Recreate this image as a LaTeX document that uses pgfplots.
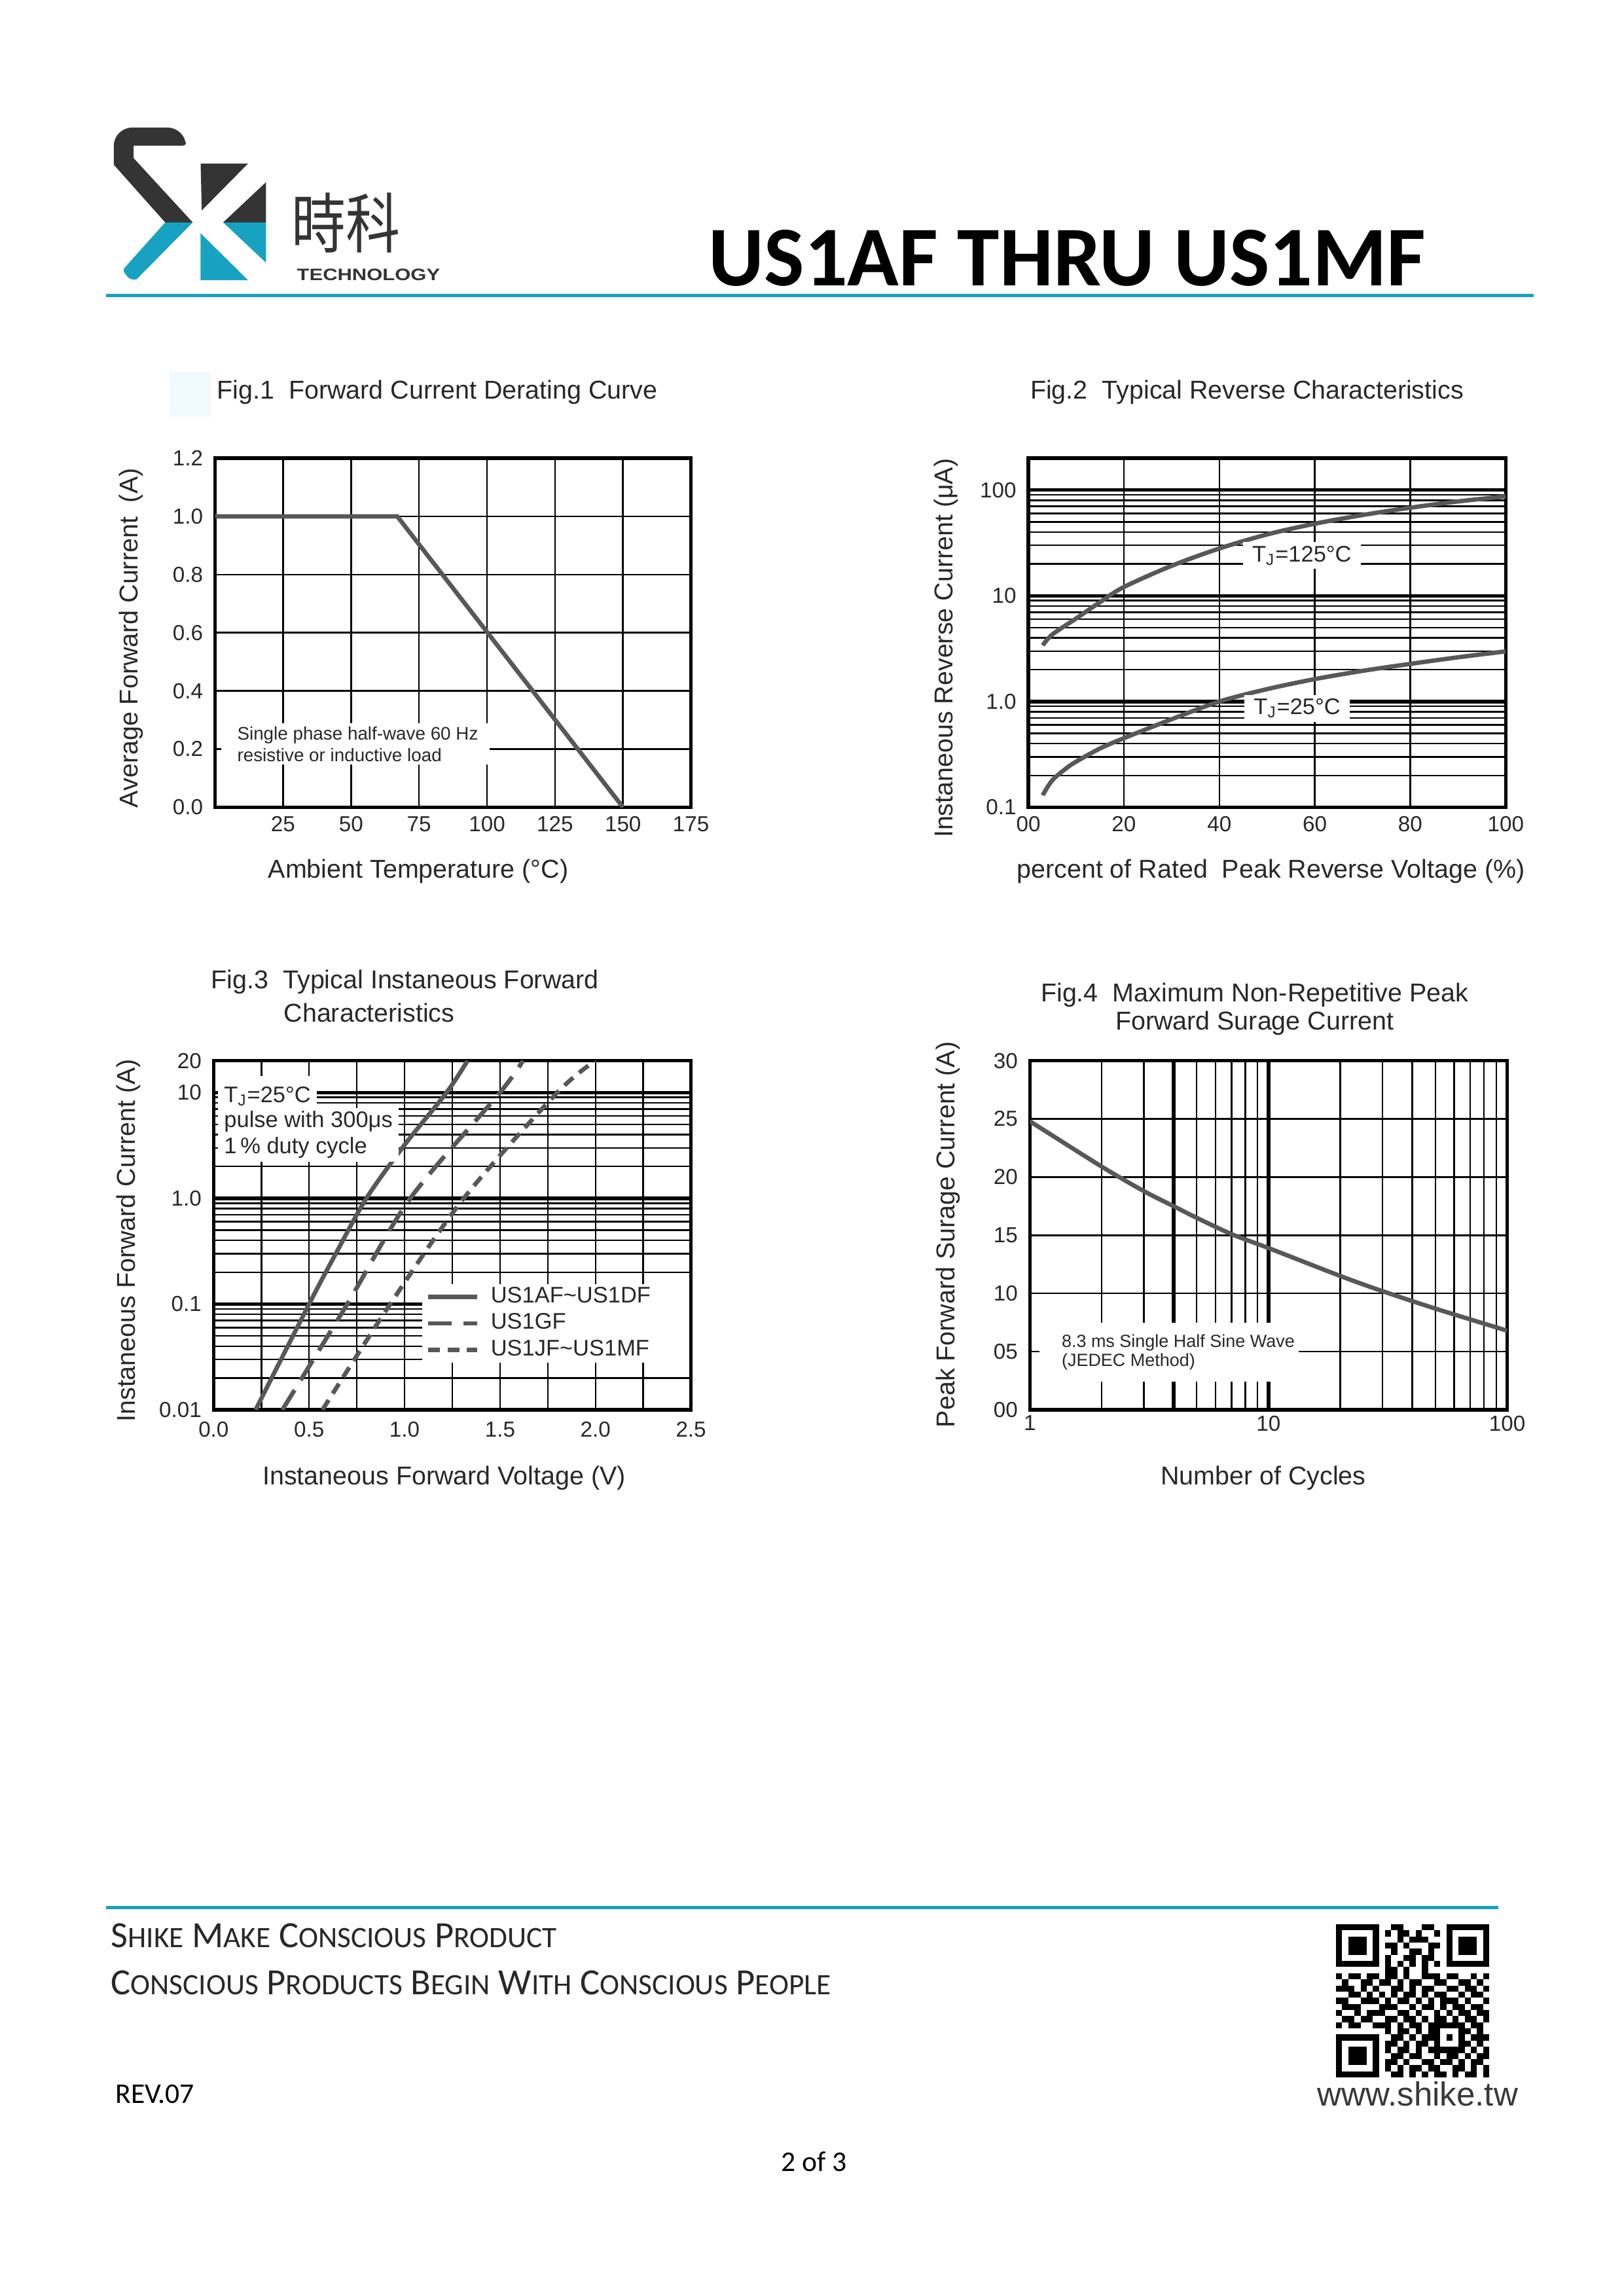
\documentclass[border=0pt]{standalone}
\usepackage{pgfplots}
\pgfplotsset{compat=1.18}
\usepackage{graphicx}
\usepackage{fontspec}
\setmainfont{Liberation Sans}
\newfontfamily\calibri{Carlito}
\newfontfamily\cjk{Noto Sans CJK TC}

\definecolor{skteal}{RGB}{23,162,194}
\definecolor{skdark}{RGB}{52,52,52}
\definecolor{curvecol}{RGB}{88,88,88}
\definecolor{txt}{RGB}{40,40,40}

\newcommand\tickfont{\fontsize{8}{9}\selectfont}
\newcommand\labfont{\fontsize{9.5}{11}\selectfont}
\newcommand\notefont{\fontsize{6.7}{8}\selectfont}
\newcommand\legfont{\fontsize{8.3}{9.6}\selectfont}
\newcommand\fsc[2]{#1{\fontsize{10.9}{12}\selectfont#2}}

\newcount\qrc
\def\qrrow#1#2{\qrc=0 \def\qrr{#1}\qrparse#2\relax}
\def\qrparse#1{\ifx#1\relax\else\ifx#11\fill (\the\qrc,-\qrr) rectangle ++(1,-1);\fi\advance\qrc by 1 \expandafter\qrparse\fi}

\pgfplotsset{
  ds/.style={
    scale only axis,
    clip mode=individual,
    axis line style={line width=1.3pt, black},
    major tick length=0pt, minor tick length=0pt,
    major grid style={line width=0.6pt, black},
    minor grid style={line width=0.6pt, black},
    ticklabel style={font=\tickfont, text=txt, inner sep=0pt},
    yticklabel style={anchor=east, xshift=-1.5mm},
    xticklabel style={anchor=north, yshift=-1.1mm},
    xlabel style={font=\labfont, text=txt, inner sep=0pt, anchor=base},
    ylabel style={font=\labfont, text=txt, inner sep=0pt, anchor=base},
    title style={font=\labfont, text=txt, inner sep=0pt, yshift=-6pt},
    /pgf/number format/assume math mode=true,
  },
  curve/.style={line width=1.6pt, color=curvecol},
}

\begin{document}
\begin{tikzpicture}
\path[use as bounding box, fill=white] (0,0) rectangle (210mm,297mm);

% ---------- logo ----------
\begin{scope}[shift={(13.543mm,281.765mm)}, x=0.029186mm, y=-0.028214mm]
  \fill[skdark] (390,480) -- (268,480) -- (40,215) [rounded corners=2.4mm] -- (40,45) -- (360,45) [rounded corners=0.4mm] -- (360,128) [sharp corners] -- (128,128) -- (128,185) -- cycle;
  \fill[skteal] (268,480) -- (390,480) -- (140,742) [rounded corners=0.4mm] -- (112,742) -- (78,700) [sharp corners] -- cycle;
  \fill[skdark] (425,210) -- (635,210) -- (430,425) -- cycle;
  \fill[skdark] (715,295) -- (715,480) -- (525,480) -- cycle;
  \fill[skteal] (525,480) -- (715,480) -- (715,665) -- cycle;
  \fill[skteal] (425,530) -- (425,745) -- (635,745) -- cycle;
\end{scope}
\node[anchor=center, inner sep=0, text=skdark] at (44.78mm,268.13mm)
  {\scalebox{1}[1.2]{\cjk\fontsize{20}{20}\selectfont 時科}};
\node[anchor=base west, inner sep=0, text=skdark] at (38.34mm,260.74mm)
  {\resizebox{18.5mm}{1.5mm}{\bfseries TECHNOLOGY}};

% ---------- header ----------
\node[anchor=base west, inner sep=0, font=\calibri\bfseries\fontsize{31.3}{31}\selectfont] at (91.6mm,260.03mm) {US1AF THRU US1MF};
\draw[skteal, line width=0.5mm] (13.72mm,258.77mm) -- (198.38mm,258.77mm);
\fill[blue!30!cyan!6] (21.91mm,243.07mm) rectangle (27.25mm,248.79mm);

% ---------- Fig. 1 ----------
\begin{axis}[ds, at={(27.82mm,192.57mm)}, anchor=south west, width=61.55mm, height=45.16mm,
  xmin=0, xmax=175, ymin=0, ymax=1.2,
  xtick={25,50,75,100,125,150,175}, xticklabels={25,50,75,100,125,150,175},
  ytick={0,0.2,0.4,0.6,0.8,1.0,1.2}, yticklabels={0.0,0.2,0.4,0.6,0.8,1.0,1.2},
  xmajorgrids, ymajorgrids,
  title={Fig.1\ \ Forward Current Derating Curve},
  title style={at={(axis description cs:0.003,1.169)}, anchor=base west},
  xlabel={Ambient Temperature (°C)},
  xlabel style={at={(axis description cs:0.427,-0.2025)}},
  ylabel={Average Forward Current\ \ (A)},
  ylabel style={at={(axis description cs:-0.162,0.485)}},
]
\addplot[curve] coordinates {(0,1.0) (67,1.0) (150,0)};
\node[anchor=north west, fill=white, inner sep=0pt, minimum height=5.34mm, align=left, font=\notefont, text=txt]
  at (axis cs:2,0.29) {\hspace*{2.1mm}Single phase half-wave 60 Hz\hspace*{1.5mm}\\\hspace*{2.1mm}resistive or inductive load};
\end{axis}

% ---------- Fig. 2 ----------
\begin{axis}[ds, at={(133.01mm,192.57mm)}, anchor=south west, width=61.74mm, height=45.16mm,
  xmin=0, xmax=100, ymode=log, ymin=0.1, ymax=200,
  xtick={0,20,40,60,80,100}, xticklabels={00,20,40,60,80,100},
  ytick={0.1,1,10,100}, yticklabels={0.1,1.0,10,100},
  minor ytick={0.2,0.3,0.4,0.5,0.6,0.7,0.8,0.9,2,3,4,5,6,7,8,9,20,30,40,50,60,70,80,90},
  xmajorgrids, ymajorgrids, yminorgrids,
  extra y ticks={0.1,1,10,100}, extra y tick labels={},
  extra y tick style={grid=major, major grid style={line width=1.3pt, black}},
  title={Fig.2\ \ Typical Reverse Characteristics},
  title style={at={(axis description cs:0.003,1.169)}, anchor=base west},
  xlabel={percent of Rated\ \ Peak Reverse Voltage (\%)},
  xlabel style={at={(axis description cs:0.508,-0.2025)}},
  ylabel={Instaneous Reverse Current (μA)},
  ylabel style={at={(axis description cs:-0.158,0.456)}},
]
\addplot[curve, smooth] coordinates {(3,3.4) (5,4.3) (10,6.1) (15,8.7) (20,12.1) (30,19.2) (40,28) (50,38) (60,48) (70,58) (80,68) (90,78) (100,87)};
\addplot[curve, smooth] coordinates {(3,0.13) (5,0.18) (8,0.235) (10,0.27) (15,0.36) (20,0.45) (30,0.68) (40,1.0) (50,1.31) (60,1.63) (70,1.95) (80,2.27) (90,2.62) (100,2.98)};
\node[fill=white, inner xsep=1.2mm, inner ysep=0.5mm, font=\legfont, text=txt] at (axis cs:57.3,24) {T\textsubscript{J}=125°C};
\node[fill=white, inner xsep=1.2mm, inner ysep=0.5mm, font=\legfont, text=txt] at (axis cs:56.3,0.86) {T\textsubscript{J}=25°C};
\end{axis}

% ---------- Fig. 3 ----------
\begin{axis}[ds, at={(27.63mm,114.63mm)}, anchor=south west, width=61.74mm, height=45.16mm,
  xmin=0, xmax=2.5, ymode=log, ymin=0.01, ymax=20,
  xtick={0,0.5,1,1.5,2,2.5}, xticklabels={0.0,0.5,1.0,1.5,2.0,2.5},
  minor xtick={0.25,0.75,1.25,1.75,2.25},
  ytick={0.01,0.1,1,10,20}, yticklabels={0.01,0.1,1.0,10,20},
  minor ytick={0.02,0.03,0.04,0.05,0.06,0.07,0.08,0.09,0.2,0.3,0.4,0.5,0.6,0.7,0.8,0.9,2,3,4,5,6,7,8,9},
  xmajorgrids, xminorgrids, ymajorgrids, yminorgrids,
  extra y ticks={0.1,1,10}, extra y tick labels={},
  extra y tick style={grid=major, major grid style={line width=1.3pt, black}},
  xticklabel style={yshift=-0.4mm},
  title={Fig.3\ \ Typical Instaneous Forward},
  title style={at={(axis description cs:-0.006,1.207)}, anchor=base west},
  xlabel={Instaneous Forward Voltage (V)},
  xlabel style={at={(axis description cs:0.483,-0.215)}},
  ylabel={Instaneous Forward Current (A)},
  ylabel style={at={(axis description cs:-0.164,0.485)}},
  legend style={at={(axis description cs:0.436,0.362)}, anchor=north west, draw=none, fill=white,
    font=\legfont, text=txt, inner xsep=0.5mm, inner ysep=0.1mm, row sep=0.25mm, column sep=1.2mm,
    nodes={inner sep=0.3mm}},
  legend cell align=left,
  legend image code/.code={\draw[#1] (0mm,0mm) -- (6.3mm,0mm);},
]
\addplot[curve, smooth] coordinates {(0.22,0.01) (0.50,0.1) (0.64,0.3) (0.80,1.0) (1.0,3.2) (1.22,10) (1.33,20)};
\addlegendentry{US1AF\textasciitilde US1DF\hspace*{4.2mm}}
\addplot[curve, smooth, dash pattern=on 3mm off 1.5mm] coordinates {(0.36,0.01) (0.70,0.1) (1.03,1.0) (1.50,10) (1.62,20)};
\addlegendentry{US1GF}
\addplot[curve, smooth, dash pattern=on 1.5mm off 1.0mm] coordinates {(0.57,0.01) (0.925,0.1) (1.31,1.0) (1.80,10) (2.0,20)};
\addlegendentry{US1JF\textasciitilde US1MF}
\node[anchor=north west, fill=white, inner xsep=0.8mm, inner ysep=1.4mm, font=\legfont, text=txt] at (axis cs:0.02,14.5) {T\textsubscript{J}=25°C};
\node[anchor=north west, fill=white, inner xsep=0.8mm, inner ysep=0.4mm, align=left, font=\legfont, text=txt] at (axis cs:0.02,7.2) {pulse with 300μs\\1\,\% duty cycle};
\node[anchor=base west, inner sep=0pt, font=\labfont, text=txt] at (axis description cs:0.146,1.11) {Characteristics};
\end{axis}

% ---------- Fig. 4 ----------
\begin{axis}[ds, at={(133.20mm,114.63mm)}, anchor=south west, width=61.74mm, height=45.16mm,
  xmode=log, xmin=1, xmax=100, ymin=0, ymax=30,
  xtick={1,10,100}, xticklabels={1,10,100},
  minor xtick={2,3,4,5,6,7,8,9,20,30,40,50,60,70,80,90},
  ytick={0,5,10,15,20,25,30}, yticklabels={00,05,10,15,20,25,30},
  xmajorgrids, xminorgrids, ymajorgrids,
  extra x ticks={4,10}, extra x tick labels={},
  extra x tick style={grid=major, major grid style={line width=1.3pt, black}},
  xticklabel style={yshift=0.4mm},
  title={Fig.4\ \ Maximum Non-Repetitive Peak},
  title style={at={(axis description cs:0.471,1.169)}, anchor=base},
  xlabel={Number of Cycles},
  xlabel style={at={(axis description cs:0.489,-0.215)}},
  ylabel={Peak Forward Surage Current (A)},
  ylabel style={at={(axis description cs:-0.158,0.502)}},
]
\addplot[curve, smooth] coordinates {(1,24.8) (2,20.9) (3,18.8) (4,17.5) (5,16.5) (7,15.1) (10,13.9) (20,11.5) (30,10.2) (50,8.7) (100,6.8)};
\node[anchor=north west, fill=white, inner sep=0pt, minimum height=7.65mm, align=left, font=\fontsize{6.5}{7.2}\selectfont, text=txt]
  at (axis cs:1.09,7.54) {\hspace*{2.9mm}8.3 ms Single Half Sine Wave\hspace*{0.5mm}\\\hspace*{2.9mm}(JEDEC Method)};
\node[anchor=base, inner sep=0pt, font=\labfont, text=txt] at (axis description cs:0.471,1.089) {Forward Surage Current};
\end{axis}

% ---------- footer ----------
\draw[skteal, line width=0.5mm] (13.72mm,50.25mm) -- (193.8mm,50.25mm);
\node[anchor=base west, inner sep=0, font=\calibri\fontsize{13.6}{15}\selectfont, text=txt] at (14.29mm,45.1mm)
  {\fsc{S}{HIKE} \fsc{M}{AKE} \fsc{C}{ONSCIOUS} \fsc{P}{RODUCT}};
\node[anchor=base west, inner sep=0, font=\calibri\fontsize{13.6}{15}\selectfont, text=txt] at (14.29mm,39.0mm)
  {\fsc{C}{ONSCIOUS} \fsc{P}{RODUCTS} \fsc{B}{EGIN} \fsc{W}{ITH} \fsc{C}{ONSCIOUS} \fsc{P}{EOPLE}};
\node[anchor=base west, inner sep=0, font=\calibri\fontsize{10.5}{12}\selectfont] at (14.86mm,24.9mm) {REV.07};
\node[anchor=base, inner sep=0, font=\calibri\fontsize{10.5}{12}\selectfont] at (105.3mm,16.15mm) {2 of 3};
\node[anchor=base east, inner sep=0, font=\fontsize{12.3}{14}\selectfont, text=black!78] at (196.4mm,24.6mm) {www.shike.tw};

% QR code
\begin{scope}[shift={(172.8mm,48.1mm)}, x=0.793mm, y=0.793mm]
\qrrow{0}{1111111001100011001111111}
\qrrow{1}{1000001010110100101000001}
\qrrow{2}{1011101000101110001011101}
\qrrow{3}{1011101011010001101011101}
\qrrow{4}{1011101001001101001011101}
\qrrow{5}{1000001010011011001000001}
\qrrow{6}{1111111010101010101111111}
\qrrow{7}{0000000011010010000000000}
\qrrow{8}{1011011011010011101100101}
\qrrow{9}{0100110110101100110011010}
\qrrow{10}{1110101001101011001101101}
\qrrow{11}{0011010101011010110010110}
\qrrow{12}{1100111010110101011101001}
\qrrow{13}{0111000111001011010110110}
\qrrow{14}{1001011100110100101011011}
\qrrow{15}{0110110011011010110101101}
\qrrow{16}{1011001110101101111110110}
\qrrow{17}{0000000010110101100011010}
\qrrow{18}{1111111001101011101010111}
\qrrow{19}{1000001011010110100011010}
\qrrow{20}{1011101010110101111110101}
\qrrow{21}{1011101001101100101101011}
\qrrow{22}{1011101011010011011010110}
\qrrow{23}{1000001010101101100110101}
\qrrow{24}{1111111001101010110101101}
\end{scope}
\end{tikzpicture}
\end{document}
